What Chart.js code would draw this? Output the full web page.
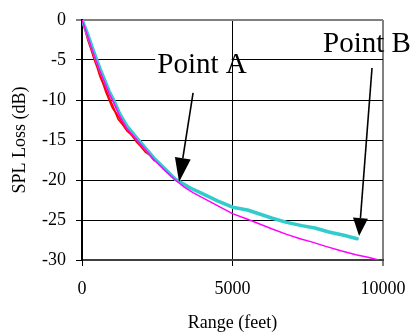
<!DOCTYPE html>
<html>
<head>
<meta charset="utf-8">
<script src="https://cdn.jsdelivr.net/npm/chart.js@4"></script>
<style>
  html, body { margin: 0; padding: 0; background: #fff; }
  canvas { display: block; }
</style>
</head>
<body>
<canvas id="chart" width="410" height="335"></canvas>
<script>
// Propagation loss versus range (feet / dB)
const xTicks = [0, 5000, 10000];
const yTicks = [0, -5, -10, -15, -20, -25, -30];

// Thin magenta run (longest)
const rangeMagenta = [0, 150, 300, 450, 600, 750, 900, 1050, 1250, 1500, 1830, 2100, 2400, 2750, 3100, 3400, 3700, 4000, 4500, 5000, 5500, 5900, 6300, 6800, 7300, 7600, 8100, 8600, 9100, 9500, 9850];
const lossMagenta  = [0, -1.6, -3.3, -4.9, -6.4, -7.8, -9.2, -10.3, -12.0, -13.6, -15.0, -16.2, -17.5, -18.8, -20.0, -20.9, -21.6, -22.2, -23.2, -24.2, -24.9, -25.5, -26.1, -26.8, -27.4, -27.7, -28.3, -28.85, -29.35, -29.65, -30.0];

// Thick cyan run
const rangeCyan = [0, 150, 300, 450, 600, 750, 900, 1050, 1250, 1500, 1830, 2100, 2400, 2750, 3100, 3600, 4000, 4500, 5000, 5500, 5900, 6300, 6800, 7300, 7740, 8200, 8700, 9140];
const lossCyan  = [0, -1.4, -3.0, -4.6, -6.1, -7.5, -8.9, -10.0, -11.7, -13.3, -14.8, -16.0, -17.3, -18.6, -19.9, -21.0, -21.7, -22.6, -23.4, -23.75, -24.25, -24.75, -25.3, -25.7, -26.0, -26.5, -26.9, -27.35];

// Short red runs near the source
const rangeRed = [0, 100, 200, 300, 400, 500, 600, 700, 800, 900, 1000, 1100, 1200, 1350, 1500, 1650, 1800, 1950, 2100, 2250, 2400];
const lossRed1 = [0, -1.3, -2.6, -3.7, -4.9, -5.9, -7.1, -8.0, -9.1, -10.0, -10.9, -11.5, -12.4, -13.1, -13.9, -14.4, -15.2, -15.8, -16.5, -16.9, -17.6];
const lossRed2 = [0, -1.1, -2.3, -3.5, -4.6, -5.7, -6.8, -7.8, -8.7, -9.7, -10.5, -11.4, -12.0, -12.9, -13.6, -14.4, -14.9, -15.7, -16.2, -16.9, -17.4];

// Labelled call-outs: label anchor, arrow tail and arrow tip in (range, loss)
const pointNotes = [
  { label: 'Point A', at: [2500, -6.65], box: [2430, 4970, -4.0, -7.3], from: [3690, -9.1], to: [3225, -20.25], head: 24, headW: 16 },
  { label: 'Point B', at: [8010, -4.0], box: null, from: [9635, -6.0], to: [9205, -27.0], head: 18, headW: 15 }
];

const toPoints = (xs, ys) => xs.map((v, i) => ({ x: v, y: ys[i] }));

const serif = "'Liberation Serif', 'Times New Roman', Times, serif";

const notesPlugin = {
  id: 'pointNotes',
  afterDatasetsDraw(chart) {
    const { ctx, scales: { x, y } } = chart;
    ctx.save();
    pointNotes.forEach(n => {
      if (n.box) {
        const bx0 = x.getPixelForValue(n.box[0]), bx1 = x.getPixelForValue(n.box[1]);
        const by0 = y.getPixelForValue(n.box[2]), by1 = y.getPixelForValue(n.box[3]);
        ctx.fillStyle = '#fff';
        ctx.fillRect(bx0, by0, bx1 - bx0, by1 - by0);
      }
      ctx.fillStyle = '#000';
      ctx.font = '29px ' + serif;
      ctx.textAlign = 'left';
      ctx.textBaseline = 'alphabetic';
      ctx.fillText(n.label, x.getPixelForValue(n.at[0]), y.getPixelForValue(n.at[1]));

      const x0 = x.getPixelForValue(n.from[0]), y0 = y.getPixelForValue(n.from[1]);
      const x1 = x.getPixelForValue(n.to[0]), y1 = y.getPixelForValue(n.to[1]);
      const ang = Math.atan2(y1 - y0, x1 - x0);
      const c = Math.cos(ang), s = Math.sin(ang);
      const hx = x1 - n.head * c, hy = y1 - n.head * s;
      const hw = n.headW / 2;
      ctx.strokeStyle = '#000';
      ctx.lineWidth = 1.6;
      ctx.beginPath();
      ctx.moveTo(x0, y0);
      ctx.lineTo(hx, hy);
      ctx.stroke();
      ctx.beginPath();
      ctx.moveTo(x1, y1);
      ctx.lineTo(hx + hw * s, hy - hw * c);
      ctx.lineTo(hx - hw * s, hy + hw * c);
      ctx.closePath();
      ctx.fill();
    });
    ctx.restore();
  }
};

new Chart(document.getElementById('chart'), {
  type: 'line',
  data: {
    datasets: [
      { data: toPoints(rangeMagenta, lossMagenta), borderColor: '#FF00FF', borderWidth: 1.5 },
      { data: toPoints(rangeCyan, lossCyan), borderColor: '#33CCCC', borderWidth: 3.5 },
      { data: toPoints(rangeRed, lossRed1), borderColor: '#FF0000', borderWidth: 1.6 },
      { data: toPoints(rangeRed, lossRed2), borderColor: '#FF0000', borderWidth: 1.6 }
    ]
  },
  options: {
    responsive: false,
    animation: false,
    events: [],
    layout: { padding: { left: 0, right: 27, top: 20, bottom: 0 } },
    elements: {
      point: { radius: 0 },
      line: { tension: 0, fill: false, borderJoinStyle: 'round', borderCapStyle: 'round' }
    },
    plugins: { legend: { display: false }, tooltip: { enabled: false } },
    scales: {
      x: {
        type: 'linear',
        min: xTicks[0],
        max: xTicks[xTicks.length - 1],
        afterBuildTicks: s => { s.ticks = xTicks.map(v => ({ value: v })); },
        afterFit: s => { s.height = 75; s.paddingLeft = 0; s.paddingRight = 0; },
        ticks: {
          color: '#000',
          padding: 12,
          maxRotation: 0,
          font: { family: serif, size: 18 },
          callback: v => String(v)
        },
        grid: {
          color: c => (c.tick && c.tick.value === xTicks[xTicks.length - 1]) ? '#808080' : '#000',
          lineWidth: c => (c.tick && c.tick.value === xTicks[xTicks.length - 1]) ? 2 : 1,
          tickLength: 6
        },
        border: { color: '#404040', width: 2 },
        title: {
          display: true,
          text: 'Range (feet)',
          color: '#000',
          font: { family: serif, size: 18 },
          padding: { top: 4, bottom: 1 }
        }
      },
      y: {
        type: 'linear',
        min: yTicks[yTicks.length - 1],
        max: yTicks[0],
        afterBuildTicks: s => { s.ticks = yTicks.slice().reverse().map(v => ({ value: v })); },
        afterFit: s => { s.width = 82; s.paddingTop = 0; s.paddingBottom = 0; },
        ticks: {
          color: '#000',
          padding: 10,
          font: { family: serif, size: 18 },
          callback: v => String(v)
        },
        grid: {
          color: c => (c.tick && c.tick.value === yTicks[0]) ? '#808080' : '#000',
          lineWidth: c => (c.tick && c.tick.value === yTicks[0]) ? 2 : 1,
          tickLength: 6
        },
        border: { color: '#000', width: 2 },
        title: {
          display: true,
          text: 'SPL Loss (dB)',
          color: '#000',
          font: { family: serif, size: 18 },
          padding: { top: 9, bottom: 4 }
        }
      }
    }
  },
  plugins: [notesPlugin]
});
</script>
</body>
</html>
